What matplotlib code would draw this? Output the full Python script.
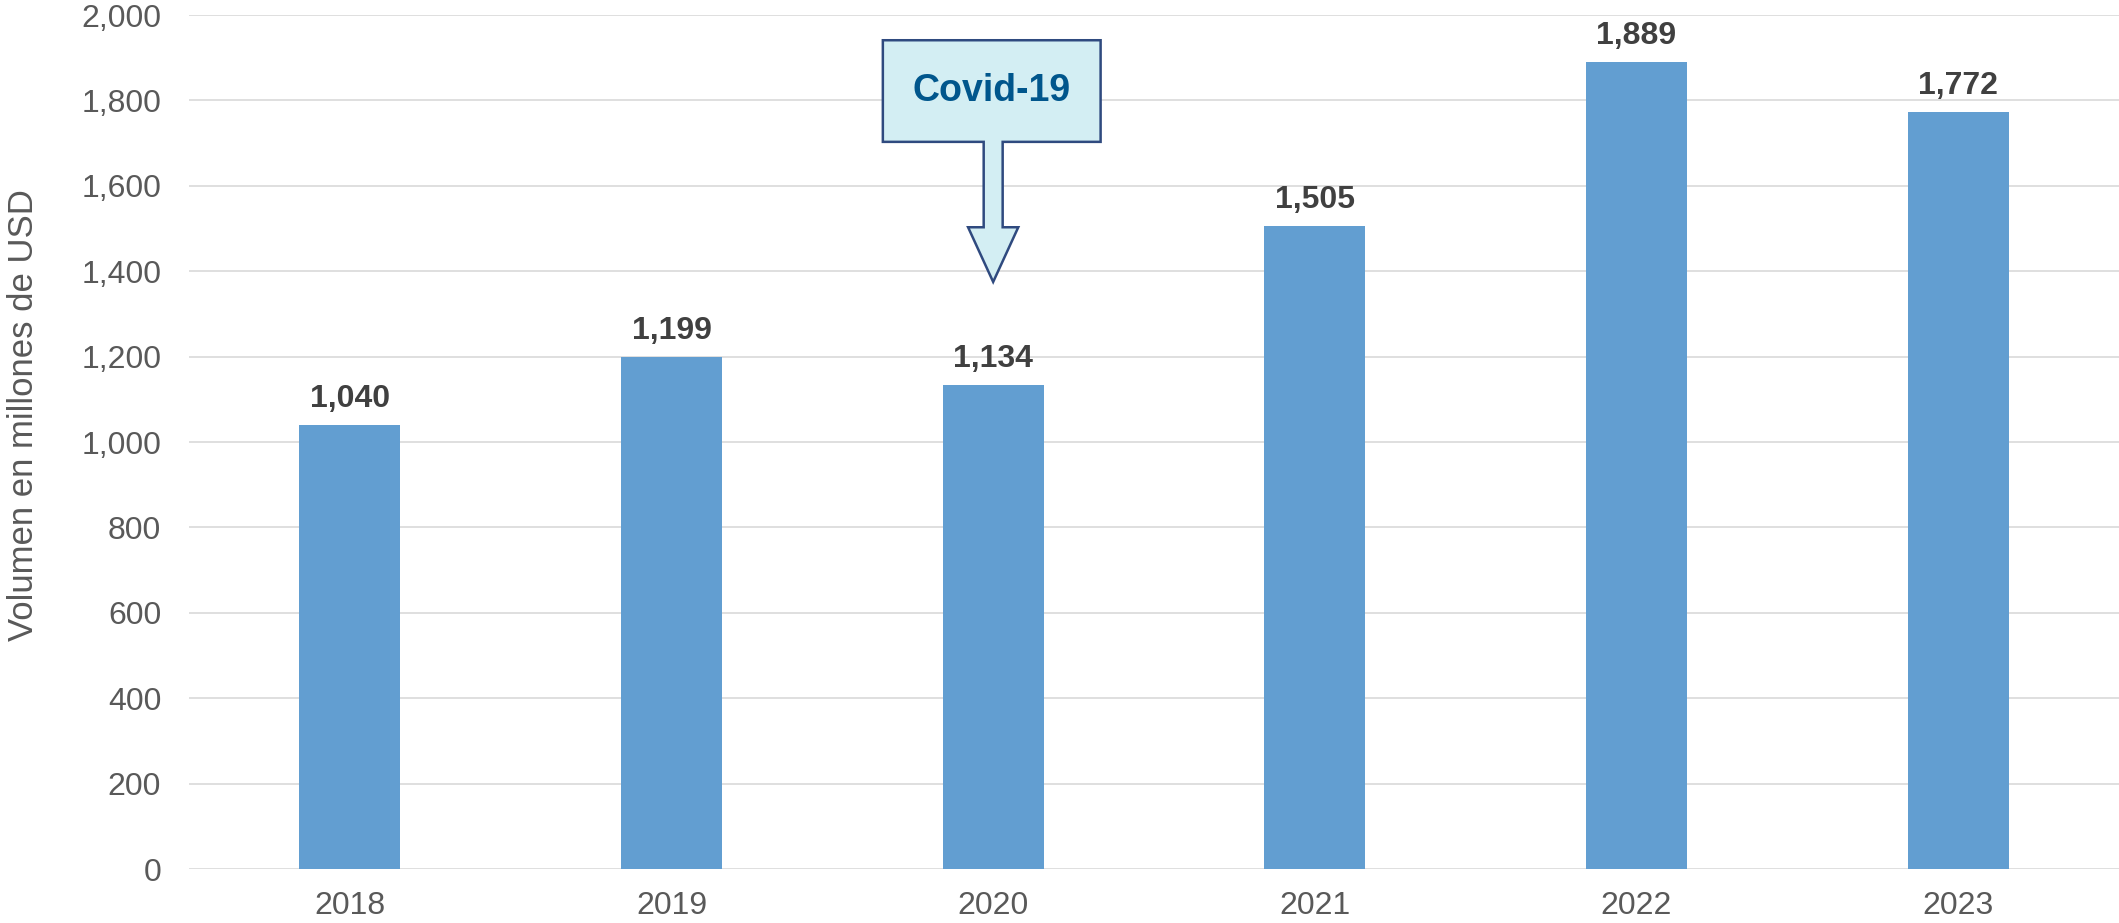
import matplotlib.pyplot as plt
from matplotlib.patches import Polygon
from matplotlib.ticker import FuncFormatter
import numpy as np

years = ["2018", "2019", "2020", "2021", "2022", "2023"]
volumen = [1040, 1199, 1134, 1505, 1889, 1772]
y_ticks = [0, 200, 400, 600, 800, 1000, 1200, 1400, 1600, 1800, 2000]

plt.rcParams['font.family'] = ['Liberation Sans', 'DejaVu Sans']

fig = plt.figure(figsize=(21.19, 9.23), dpi=100)
ax = fig.add_axes([0.0892, 0.0585, 0.9108, 0.9252])

x = np.arange(len(years))
bars = ax.bar(x, volumen, width=0.314, color='#629ED1', zorder=2)

for xi, v in zip(x, volumen):
    ax.annotate(f"{v:,}", (xi, v), xytext=(0, 8), textcoords='offset points',
                ha='center', va='bottom', fontsize=23, fontweight='bold', color='#404040')

ax.set_xlim(-0.5, 5.5)
ax.set_ylim(0, 2000)
ax.set_yticks(y_ticks)
ax.yaxis.set_major_formatter(FuncFormatter(lambda v, p: f"{int(v):,}"))
ax.set_xticks(x)
ax.set_xticklabels(years)
ax.tick_params(axis='y', length=0, pad=20, labelsize=23, labelcolor='#595959')
ax.tick_params(axis='x', length=0, pad=16, labelsize=23, labelcolor='#595959')
ax.grid(axis='y', color='#D9D9D9', linewidth=1.2, zorder=0)
ax.set_axisbelow(True)
for s in ax.spines.values():
    s.set_visible(False)

ax.set_ylabel("Volumen en millones de USD", fontsize=25, color='#595959')
ax.yaxis.set_label_coords(-0.0772, 0.532)

# callout over the 2020 bar
cx = years.index("2020")
bx0, bx1 = cx - 0.343, cx + 0.334
by0, by1 = 1703, 1941
sw, hw = 0.0295, 0.078
shaft_y, tip_y = 1503, 1375
callout = [
    (bx0, by1), (bx1, by1), (bx1, by0), (cx + sw, by0), (cx + sw, shaft_y),
    (cx + hw, shaft_y), (cx, tip_y), (cx - hw, shaft_y), (cx - sw, shaft_y),
    (cx - sw, by0), (bx0, by0),
]
ax.add_patch(Polygon(callout, closed=True, facecolor='#D3EEF3', edgecolor='#2F4A7F',
                     linewidth=1.8, zorder=4, clip_on=False))
ax.text((bx0 + bx1) / 2, (by0 + by1) / 2, "Covid-19", ha='center', va='center',
        fontsize=27, fontweight='bold', color='#00568C', zorder=5)

fig.savefig("out.png", dpi=100)
